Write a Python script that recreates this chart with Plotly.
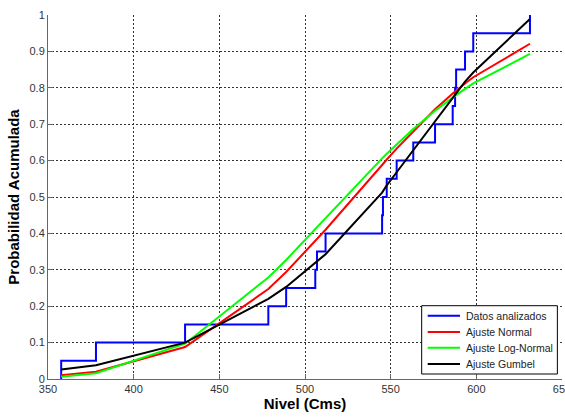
import plotly.graph_objects as go

# Observed levels (sorted data) and empirical cumulative probability
nivel = [357.7, 378.0, 430.0, 478.6, 489.0, 506.0, 507.0, 512.0, 545.0, 545.5,
         547.7, 553.5, 563.2, 575.9, 586.2, 587.6, 588.2, 593.4, 598.2, 631.3]
prob_emp = [0.05, 0.10, 0.15, 0.20, 0.25, 0.30, 0.35, 0.40, 0.45, 0.50,
            0.55, 0.60, 0.65, 0.70, 0.75, 0.80, 0.85, 0.90, 0.95, 1.00]

# Fitted cumulative probabilities read at each level
ajuste_normal = [0.010, 0.020, 0.088, 0.247, 0.294, 0.378, 0.383, 0.410, 0.588, 0.591,
                 0.603, 0.633, 0.681, 0.741, 0.784, 0.790, 0.792, 0.812, 0.829, 0.921]
ajuste_lognormal = [0.006, 0.016, 0.097, 0.279, 0.327, 0.414, 0.419, 0.442, 0.606, 0.609,
                    0.619, 0.644, 0.687, 0.737, 0.774, 0.778, 0.780, 0.797, 0.812, 0.893]
ajuste_gumbel = [0.026, 0.038, 0.100, 0.220, 0.253, 0.320, 0.325, 0.343, 0.512, 0.516,
                 0.532, 0.568, 0.628, 0.707, 0.771, 0.780, 0.784, 0.817, 0.842, 0.989]

series_names = ["Datos analizados", "Ajuste Normal", "Ajuste Log-Normal", "Ajuste Gumbel"]
series_colors = ["#0000ff", "#ff0000", "#00ff00", "#000000"]

x_ticks = [350, 400, 450, 500, 550, 600, 650]
y_ticks = [0, 0.1, 0.2, 0.3, 0.4, 0.5, 0.6, 0.7, 0.8, 0.9, 1]

FONT = "Liberation Sans, Arial, sans-serif"

fig = go.Figure()
fig.add_trace(go.Scatter(
    x=[nivel[0]] + nivel, y=[0] + prob_emp, mode="lines", line_shape="hv",
    line=dict(color=series_colors[0], width=2), name=series_names[0]))
fig.add_trace(go.Scatter(
    x=nivel, y=ajuste_normal, mode="lines",
    line=dict(color=series_colors[1], width=2), name=series_names[1]))
fig.add_trace(go.Scatter(
    x=nivel, y=ajuste_lognormal, mode="lines",
    line=dict(color=series_colors[2], width=2), name=series_names[2]))
fig.add_trace(go.Scatter(
    x=nivel, y=ajuste_gumbel, mode="lines",
    line=dict(color=series_colors[3], width=2), name=series_names[3]))

axis_common = dict(
    showgrid=True, gridcolor="#333333", griddash="2px,2px", gridwidth=1,
    showline=True, linecolor="#666666", linewidth=1,
    ticks="inside", ticklen=5, tickcolor="#666666",
    tickfont=dict(family=FONT, size=11, color="#333333"),
    ticklabeloverflow="allow", automargin=False,
    zeroline=False,
)

# Legend box (MATLAB-style, compact rows), placed in paper coordinates
leg_box = dict(x0=0.727, x1=0.991, y0=0.0137, y1=0.2014)
leg_rows = [0.1739, 0.1291, 0.0860, 0.0412]
leg_line_x = (0.7387, 0.8016)
leg_text_x = 0.8093

shapes = [dict(type="rect", xref="paper", yref="paper", layer="above",
               fillcolor="white", line=dict(color="#000000", width=1), **leg_box)]
annotations = []
for name, color, yr in zip(series_names, series_colors, leg_rows):
    shapes.append(dict(type="line", xref="paper", yref="paper", layer="above",
                       x0=leg_line_x[0], x1=leg_line_x[1], y0=yr, y1=yr,
                       line=dict(color=color, width=2)))
    annotations.append(dict(text=name, xref="paper", yref="paper", x=leg_text_x, y=yr,
                            xanchor="left", yanchor="middle", showarrow=False,
                            font=dict(family=FONT, size=10.5, color="#222222")))

fig.update_layout(
    width=565, height=418,
    margin=dict(l=48, r=3, t=15, b=39),
    paper_bgcolor="white", plot_bgcolor="white",
    font=dict(family=FONT, color="#000000"),
    xaxis=dict(range=[350, 650], tickvals=x_ticks,
               title=dict(text="<b>Nivel (Cms)</b>", font=dict(family=FONT, size=15, color="#000"),
                          standoff=3),
               **axis_common),
    yaxis=dict(range=[0, 1], tickvals=y_ticks,
               title=dict(text="<b>Probabilidad Acumulada</b>", font=dict(family=FONT, size=15, color="#000"),
                          standoff=6),
               **axis_common),
    showlegend=False,
    shapes=shapes,
    annotations=annotations,
)

fig.write_html("out.html")
